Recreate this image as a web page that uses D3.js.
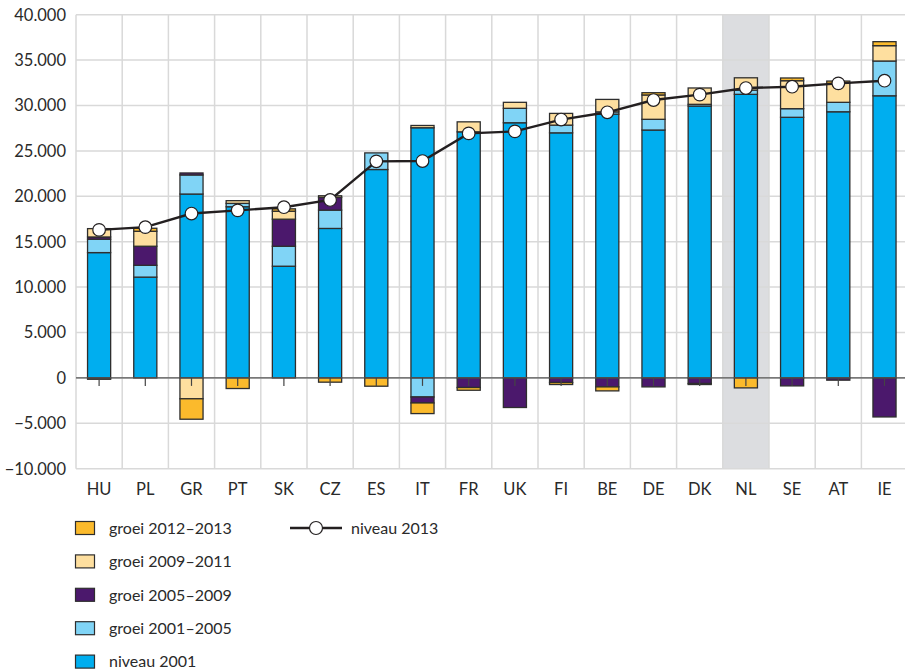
<!DOCTYPE html>
<html><head><meta charset="utf-8">
<script src="https://cdn.jsdelivr.net/npm/d3@7"></script>
<style>
body{margin:0;background:#fff;}
svg text{font-family:Lato,"Noto Sans",sans-serif;fill:#2a2a2a;}
</style></head>
<body><svg id="c" width="905" height="672"></svg>
<script>
const categories = ["HU","PL","GR","PT","SK","CZ","ES","IT","FR","UK","FI","BE","DE","DK","NL","SE","AT","IE"];
const niveau2001 = [13800,11100,20250,18850,12300,16460,22950,27550,27100,28100,26990,29050,27300,29940,31230,28700,29310,31070];
const groei0105  = [1470,1300,2100,370,2200,2020,1830,-2100,0,1590,850,250,1180,190,470,950,1040,3830];
const groei0509  = [250,2100,220,0,2980,1400,0,-660,-1060,-3260,-510,-990,-990,-620,0,-880,-250,-4300];
const groei0911  = [920,1650,-2300,300,880,180,0,250,1100,660,1290,1370,2680,1800,1350,3080,2090,1690];
const groei1213  = [-150,330,-2250,-1170,260,-470,-915,-1170,-300,0,-220,-440,250,-110,-1100,300,250,440];
const niveau2013 = [16300,16600,18100,18450,18800,19600,23850,23880,26930,27150,28450,29250,30600,31200,31920,32070,32440,32730];
const yTicks = [-10000,-5000,0,5000,10000,15000,20000,25000,30000,35000,40000];
const highlight = "NL";

const seriesKeys = ["niveau 2001","groei 2001–2005","groei 2005–2009","groei 2009–2011","groei 2012–2013"];
const seriesData = [niveau2001,groei0105,groei0509,groei0911,groei1213];
const colors = ["#00aeef","#80d4f6","#4b186c","#fedf9f","#fbba2c"];

const svg = d3.select("#c");
const pL = 76, pR = 907.6, pT = 14.7, pB = 468.7;
const x = d3.scaleBand().domain(categories).range([pL,pR]).paddingInner(0.5).paddingOuter(0.25);
const y = d3.scaleLinear().domain([-10000,40000]).range([pB,pT]);
const loc = d3.formatLocale({decimal:",",thousands:".",grouping:[3],currency:["€",""],minus:"−"});
const fmt = loc.format(",");

// highlight band
const step = x.step();
svg.append("rect").attr("x", x(highlight) - x.bandwidth()*0.5).attr("y", pT)
  .attr("width", step).attr("height", pB - pT).attr("fill","#dcdde0");

// grid horizontals
svg.append("g").selectAll("line").data(yTicks).join("line")
  .attr("x1",pL).attr("x2",pR).attr("y1",d=>y(d)).attr("y2",d=>y(d))
  .attr("stroke","#d9d9d9").attr("stroke-width",1.5);
// grid verticals
const bounds = categories.map(c => x(c) - x.bandwidth()*0.5).concat([pR]);
svg.append("g").selectAll("line").data(bounds).join("line")
  .attr("x1",d=>d).attr("x2",d=>d).attr("y1",pT).attr("y2",pB)
  .attr("stroke","#d9d9d9").attr("stroke-width",1.5);

// y labels
svg.append("g").selectAll("text").data(yTicks).join("text")
  .attr("x",66).attr("y",d=>y(d)).attr("dy","0.36em").attr("text-anchor","end")
  .attr("font-size",16.5).text(d=>fmt(d));

// stacked bars
const table = categories.map((c,i)=>{const o={cat:c}; seriesKeys.forEach((k,j)=>o[k]=seriesData[j][i]); return o;});
const stack = d3.stack().keys(seriesKeys).offset(d3.stackOffsetDiverging)(table);
svg.append("g").selectAll("g").data(stack).join("g").attr("fill",(d,i)=>colors[i])
  .selectAll("rect").data(d=>d.filter(p=>p[1]!==p[0])).join("rect")
  .attr("x",d=>x(d.data.cat)).attr("width",x.bandwidth())
  .attr("y",d=>y(Math.max(d[0],d[1]))).attr("height",d=>Math.abs(y(d[0])-y(d[1])))
  .attr("stroke","#2e2e2e").attr("stroke-width",1.3);

// zero line
svg.append("line").attr("x1",pL).attr("x2",pR).attr("y1",y(0)).attr("y2",y(0))
  .attr("stroke","#555").attr("stroke-width",1.3);
// ticks
svg.append("g").selectAll("line").data(categories).join("line")
  .attr("x1",d=>x(d)+x.bandwidth()/2).attr("x2",d=>x(d)+x.bandwidth()/2)
  .attr("y1",y(0)).attr("y2",y(0)+8).attr("stroke","#444").attr("stroke-width",1.2);

// x labels
svg.append("g").selectAll("text").data(categories).join("text")
  .attr("x",d=>x(d)+x.bandwidth()/2).attr("y",495).attr("text-anchor","middle")
  .attr("font-size",16.5).text(d=>d);

// line
const line = d3.line().x((d,i)=>x(categories[i])+x.bandwidth()/2).y(d=>y(d));
svg.append("path").datum(niveau2013).attr("d",line).attr("fill","none")
  .attr("stroke","#231f20").attr("stroke-width",2.4);
svg.append("g").selectAll("circle").data(niveau2013).join("circle")
  .attr("cx",(d,i)=>x(categories[i])+x.bandwidth()/2).attr("cy",d=>y(d)).attr("r",6.3)
  .attr("fill","#fff").attr("stroke","#231f20").attr("stroke-width",1.2);

// legend
const legendOrder = [4,3,2,1,0];
const lg = svg.append("g");
legendOrder.forEach((si,r)=>{
  const cy = 528 + r*33.4;
  lg.append("rect").attr("x",75.5).attr("y",cy-6.5).attr("width",19).attr("height",13)
    .attr("fill",colors[si]).attr("stroke","#2e2e2e").attr("stroke-width",1.2);
  lg.append("text").attr("x",109).attr("y",cy).attr("dy","0.36em").attr("font-size",16).text(seriesKeys[si]);
});
lg.append("line").attr("x1",290).attr("x2",342).attr("y1",528).attr("y2",528).attr("stroke","#231f20").attr("stroke-width",2.4);
lg.append("circle").attr("cx",316).attr("cy",528).attr("r",6.5).attr("fill","#fff").attr("stroke","#231f20").attr("stroke-width",1.2);
lg.append("text").attr("x",351).attr("y",528).attr("dy","0.36em").attr("font-size",16).text("niveau 2013");
</script></body></html>
